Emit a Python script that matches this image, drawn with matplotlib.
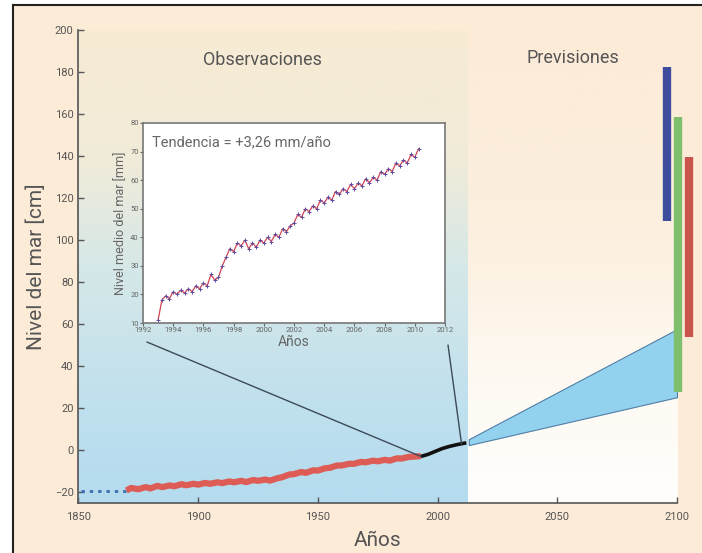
import numpy as np
import matplotlib
matplotlib.use("agg")
import matplotlib.pyplot as plt
from matplotlib.colors import LinearSegmentedColormap
from matplotlib.patches import ConnectionPatch, Rectangle
from matplotlib.lines import Line2D

plt.rcParams["font.family"] = ["Roboto", "DejaVu Sans"]

# tide gauge reconstruction (cm)
tide_years = [1870, 1872, 1875, 1878, 1880, 1883, 1885, 1888, 1890, 1893, 1895,
              1898, 1900, 1903, 1905, 1908, 1910, 1913, 1915, 1918, 1920, 1923,
              1925, 1928, 1930, 1933, 1935, 1938, 1940, 1943, 1945, 1948, 1950,
              1953, 1955, 1958, 1960, 1963, 1965, 1968, 1970, 1973, 1975, 1978,
              1980, 1983, 1985, 1988, 1990, 1993]
tide_cm = [-19.2, -18.0, -18.6, -17.6, -18.2, -17.0, -17.6, -16.8, -17.2, -16.2,
           -16.7, -16.0, -16.4, -15.6, -16.0, -15.3, -15.7, -14.9, -15.3, -14.6,
           -15.2, -14.2, -14.6, -14.0, -14.5, -13.4, -12.9, -11.6, -11.4, -10.4,
           -10.8, -9.6, -9.7, -8.6, -8.4, -7.3, -7.3, -6.5, -6.5, -5.6, -5.8,
           -5.0, -5.3, -4.6, -5.0, -3.9, -4.0, -3.2, -3.1, -2.8]

# satellite altimetry (cm)
sat_years = [1993, 1996, 1999, 2002, 2005, 2008, 2012]
sat_cm = [-3.0, -2.0, -0.6, 0.8, 1.8, 2.6, 3.5]

# pre-1870 estimate (dotted)
early_years = [1851, 1870]
early_cm = [-19.4, -19.4]

# projection wedge to 2100
proj_years = [2013, 2100]
proj_low = [2.4, 25.2]
proj_high = [5.2, 57.6]

# ranges of other estimates for 2100
range_x = [2096.0, 2100.6, 2105.2]
range_low = [109, 27.6, 53.8]
range_high = [182.4, 158.6, 139.5]
range_colors = ["#3d4c9c", "#7fbe6c", "#c8544b"]

# inset: satellite mean sea level (mm), quarterly from 1993.0
inset_start = 1993.0
inset_step = 0.25
inset_mm = [11, 18, 19.5, 18.5, 21, 20, 21.5, 20.5, 22, 21, 23, 22, 24, 23, 27, 25,
            26, 30, 33, 36, 35, 38, 37, 39, 36, 38, 36.5, 39, 38, 40, 38.5, 41,
            40, 43, 42, 44, 45, 48, 47, 50, 49, 51, 50, 53, 52, 54, 53, 56,
            55, 57, 56, 58.5, 57, 59, 58, 60.5, 59, 61, 60, 63, 62, 64, 63, 66,
            65, 67, 66, 69, 68, 71]
inset_years = inset_start + inset_step * np.arange(len(inset_mm))

fig = plt.figure(figsize=(7.02, 5.53), dpi=100, facecolor="white")
fig.add_artist(Rectangle((0.0185, 0), 1, 0.991, transform=fig.transFigure,
                         facecolor="#fcebd7", edgecolor="none", zorder=-10))
fig.add_artist(Line2D([0.0185, 1], [0.991, 0.991], transform=fig.transFigure,
                      color="#222222", lw=1.5))
fig.add_artist(Line2D([0.0185, 0.0185], [0, 0.991], transform=fig.transFigure,
                      color="#222222", lw=1.5))

ax = fig.add_axes([0.1118, 0.0910, 0.8526, 0.8548])
ax.set_facecolor("none")
ax.set_xlim(1850, 2100)
ax.set_ylim(-25, 200)

# background gradients
obs_cmap = LinearSegmentedColormap.from_list(
    "obs", [(0, "#b4dbee"), (0.2, "#bfe0ee"), (0.5, "#d6e8e8"), (0.72, "#f0ebd9"),
            (1, "#f8ebd4")])
prev_cmap = LinearSegmentedColormap.from_list(
    "prev", [(0, "#fffefc"), (0.25, "#fefaf3"), (0.55, "#fcf0e0"), (1, "#fcebd7")])
grad = np.linspace(0, 1, 256).reshape(-1, 1)
ax.imshow(grad, cmap=obs_cmap, origin="lower", aspect="auto",
          extent=[1850, 2012.5, -25, 200], zorder=0)
ax.imshow(grad, cmap=prev_cmap, origin="lower", aspect="auto",
          extent=[2012.5, 2100, -25, 200], zorder=0)

ax.plot(early_years, early_cm, color="#3b6db0", lw=2, ls=(0, (1.2, 1.8)), zorder=3)
ax.plot(tide_years, tide_cm, color="#dd5c55", lw=4.5, solid_capstyle="butt", zorder=3)
ax.plot(sat_years, sat_cm, color="#111111", lw=2.6, solid_capstyle="butt", zorder=4)
ax.fill_between(proj_years, proj_low, proj_high, facecolor="#93d2ef",
                edgecolor="#4f7ea6", lw=0.8, zorder=3)

for x, lo, hi, c in zip(range_x, range_low, range_high, range_colors):
    ax.plot([x, x], [lo, hi], color=c, lw=6, solid_capstyle="butt",
            clip_on=False, zorder=5)

ax.text(1927, 185.5, "Observaciones", ha="center", va="center",
        fontsize=13, color="#555555")
ax.text(2056.5, 186.5, "Previsiones", ha="center", va="center",
        fontsize=13, color="#555555")

ax.set_xticks([1850, 1900, 1950, 2000, 2050, 2100])
ax.set_yticks(range(-20, 201, 20))
ax.tick_params(direction="in", length=4, width=1, colors="#555555",
               labelsize=8, labelcolor="#555555")
ax.tick_params(axis="x", pad=7)
for s in ["top", "right"]:
    ax.spines[s].set_visible(False)
for s in ["left", "bottom"]:
    ax.spines[s].set_color("#555555")
    ax.spines[s].set_linewidth(1.2)
ax.set_ylabel("Nivel del mar [cm]", fontsize=15, color="#555555", labelpad=6)
ax.set_xlabel("Años", fontsize=15, color="#555555", labelpad=6)

# inset
ins = fig.add_axes([0.2037, 0.4159, 0.4302, 0.3617])
ins.set_facecolor("white")
ins.set_xlim(1992, 2012)
ins.set_ylim(10, 80)
ins.plot(inset_years, inset_mm, color="#d24452", lw=0.9, zorder=2)
ins.plot(inset_years, inset_mm, ls="none", marker="+", ms=3, mew=0.7,
         color="#5b4ba3", zorder=3)
ins.set_xticks(range(1992, 2013, 2))
ins.set_yticks(range(10, 81, 10))
ins.tick_params(direction="out", length=2, width=0.8, colors="#666666",
                labelsize=5.5, pad=1)
for s in ins.spines.values():
    s.set_color("#777777")
    s.set_linewidth(1.2)
ins.set_ylabel("Nivel medio del mar [mm]", fontsize=9, color="#666666", labelpad=2)
ins.set_xlabel("Años", fontsize=10, color="#666666", labelpad=1)
ins.text(0.03, 0.905, "Tendencia = +3,26 mm/año", transform=ins.transAxes,
         ha="left", va="center", fontsize=10.5, color="#666666")

for xy_in, xy_main in [((0.013, -0.095), (1993, -3)), ((1.01, -0.11), (2010, 3))]:
    con = ConnectionPatch(xyA=xy_in, coordsA=ins.transAxes,
                          xyB=xy_main, coordsB=ax.transData,
                          color="#3d4a58", lw=1)
    fig.add_artist(con)

fig.savefig("out.png", dpi=100, facecolor=fig.get_facecolor())
